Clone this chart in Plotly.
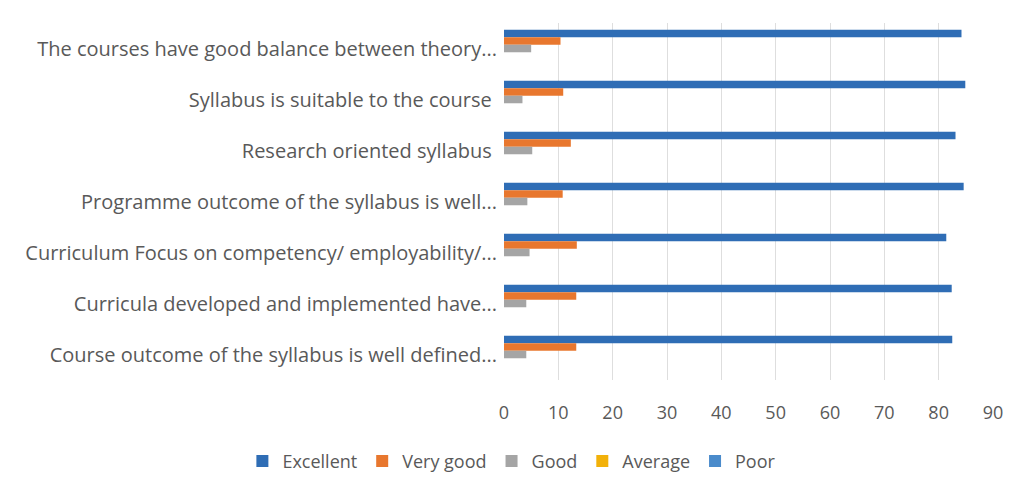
import plotly.graph_objects as go

# categories, top to bottom as in the reference
categories = [
    "The courses have good balance between theory...",
    "Syllabus is suitable to the course\u00a0",
    "Research oriented syllabus\u00a0",
    "Programme outcome of the syllabus is well...",
    "Curriculum Focus on competency/ employability/...",
    "Curricula developed and implemented have...",
    "Course outcome of the syllabus is well defined...",
]

excellent = [84.2, 84.9, 83.1, 84.6, 81.4, 82.4, 82.5]
very_good = [10.4, 10.9, 12.3, 10.8, 13.4, 13.3, 13.3]
good = [5.0, 3.4, 5.2, 4.3, 4.7, 4.1, 4.1]
average = [0, 0, 0, 0, 0, 0, 0]
poor = [0, 0, 0, 0, 0, 0, 0]

series = [
    ("Excellent", excellent, "#2F6DB5"),
    ("Very good", very_good, "#E8772E"),
    ("Good", good, "#A5A5A5"),
    ("Average", average, "#F2B10A"),
    ("Poor", poor, "#4A8BCB"),
]

x_ticks = [0, 10, 20, 30, 40, 50, 60, 70, 80, 90]

font_family = "Open Sans, sans-serif"
text_color = "#595959"

fig = go.Figure()
for name, values, color in series:
    fig.add_trace(go.Bar(
        y=categories,
        x=values,
        name=name,
        orientation="h",
        marker=dict(color=color, line=dict(width=0)),
    ))

# the page body adds an 8px offset, margins are set to make up for it
fig.update_layout(
    width=1019,
    height=491,
    barmode="group",
    bargap=0.26,
    bargroupgap=0,
    plot_bgcolor="white",
    paper_bgcolor="white",
    margin=dict(l=496, r=34, t=15, b=119),
    font=dict(family=font_family, size=20, color=text_color),
    legend=dict(
        orientation="h",
        x=-0.535,
        xanchor="left",
        y=-0.228,
        yanchor="middle",
        font=dict(size=18, color=text_color),
        itemwidth=30,
        traceorder="normal",
    ),
)

fig.update_xaxes(
    range=[0, 90],
    tickvals=x_ticks,
    showgrid=True,
    gridcolor="#dedede",
    gridwidth=1,
    zeroline=False,
    showline=False,
    ticks="",
    ticklabelstandoff=20,
    tickfont=dict(size=18, color=text_color),
    automargin=False,
)

fig.update_yaxes(
    autorange="reversed",
    showgrid=False,
    showline=False,
    ticks="",
    ticklabelstandoff=6,
    tickfont=dict(size=20, color=text_color),
    automargin=False,
)

fig.write_html("out.html")
